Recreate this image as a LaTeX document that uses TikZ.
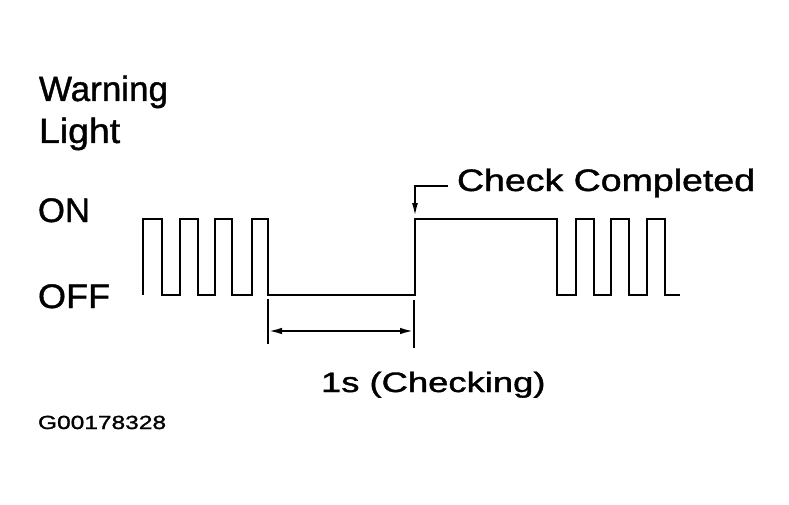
\documentclass[tikz,border=0pt]{standalone}
\usepackage{fontspec}
\setmainfont{Liberation Sans}[RawFeature={embolden=1.2}]
\usetikzlibrary{arrows.meta}
\tikzset{
  wave/.style={line width=2.6pt, line join=miter},
  extline/.style={line width=1.4pt},
  dimline/.style={line width=2.2pt, {Latex[length=14pt,width=6.5pt]}-{Latex[length=14pt,width=6.5pt]}},
  callout/.style={line width=1.8pt, -{Latex[length=13pt,width=6pt]}},
  lbl/.style={anchor=base west, inner sep=0pt, outer sep=0pt}
}
\newcommand{\sx}[2]{\scalebox{#1}[1]{#2}}
\begin{document}
\begin{tikzpicture}[x=1pt,y=-1pt]
\useasboundingbox (0,0) rectangle (789,505);
% labels
\node[lbl, font=\fontsize{35}{38}\selectfont] (warn) at (39,101) {\sx{1.0}{Warning}};
\node[lbl, font=\fontsize{35}{38}\selectfont] (light) at (39,143) {\sx{1.07}{Light}};
\node[lbl, font=\fontsize{34}{38}\selectfont] (on) at (38,222) {\sx{1.02}{ON}};
\node[lbl, font=\fontsize{34}{38}\selectfont] (off) at (38,308) {\sx{1.06}{OFF}};
\node[lbl, font=\fontsize{31}{34}\selectfont] (chk) at (457,191) {\sx{1.21}{Check Completed}};
\node[lbl, font=\fontsize{28}{32}\selectfont] (dur) at (321,392) {\sx{1.30}{1s (Checking)}};
\node[lbl, font=\fontsize{19}{22}\selectfont] (code) at (38,429) {\sx{1.29}{G00178328}};
% waveform
\draw[wave] (143,295) -- (143,219) -- (162,219) -- (162,295) -- (180,295) -- (180,219)
  -- (198,219) -- (198,295) -- (215,295) -- (215,219) -- (232,219) -- (232,295)
  -- (252,295) -- (252,219) -- (268,219) -- (268,295) -- (415,295) -- (415,219)
  -- (557,219) -- (557,295) -- (576,295) -- (576,219) -- (594,219) -- (594,295)
  -- (611,295) -- (611,219) -- (629,219) -- (629,295) -- (647,295) -- (647,219)
  -- (665,219) -- (665,295) -- (680,295);
% dimension
\coordinate (e1a) at (268,299);
\coordinate (e1b) at (268,344);
\coordinate (e2a) at (414,300);
\coordinate (e2b) at (414,348);
\coordinate (dl) at (268,331);
\coordinate (dr) at (414,331);
\draw[extline] (e1a) -- (e1b);
\draw[extline] (e2a) -- (e2b);
\draw[dimline] (dl) -- (dr);
% callout
\coordinate (c0) at (448,186);
\coordinate (c1) at (415,186);
\coordinate (c2) at (415,216);
\draw[callout] (c0) -- (c1) -- (c2);
\end{tikzpicture}
\end{document}
